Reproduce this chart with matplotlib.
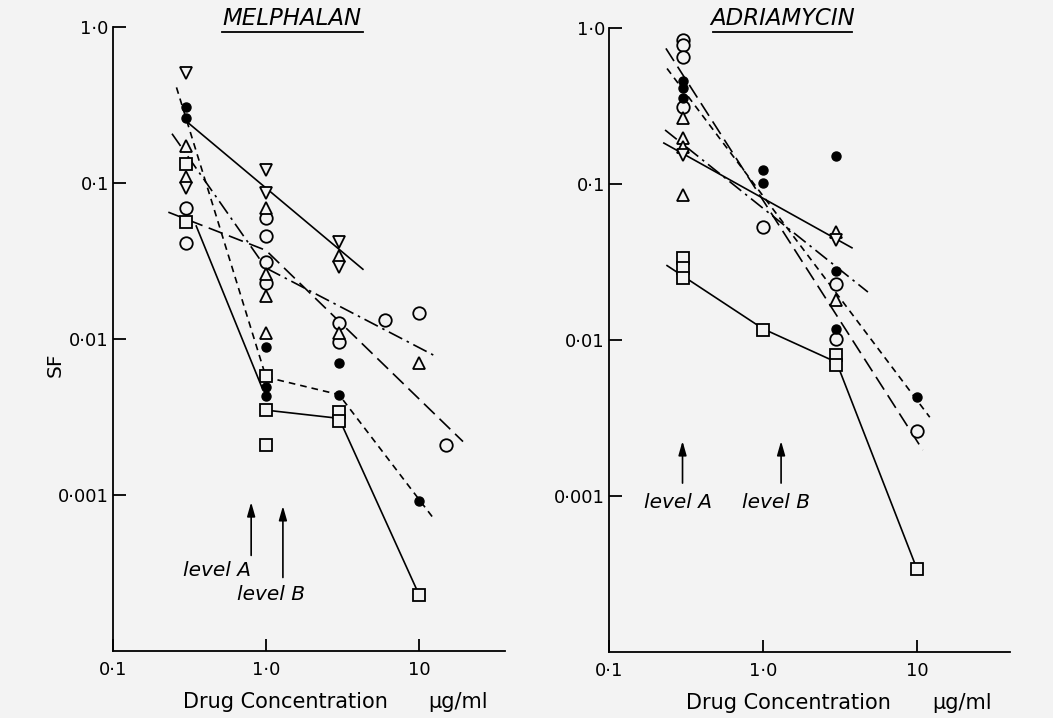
import matplotlib.pyplot as plt
from matplotlib.lines import Line2D

bg = '#f3f3f3'

# ---- MELPHALAN data (x = drug conc ug/ml, y = SF) ----
mel_open_circle_x = [0.3, 0.3, 1.0, 1.0, 1.0, 1.0, 3.0, 3.0, 6.0, 10, 15]
mel_open_circle_y = [0.069, 0.041, 0.060, 0.046, 0.031, 0.023, 0.0126, 0.0095, 0.0133, 0.0147, 0.0021]
mel_dot_x = [0.3, 0.3, 1.0, 1.0, 1.0, 3.0, 3.0, 10]
mel_dot_y = [0.307, 0.261, 0.0089, 0.0049, 0.0043, 0.0070, 0.0044, 0.00091]
mel_up_x = [0.3, 0.3, 1.0, 1.0, 1.0, 1.0, 3.0, 3.0, 10]
mel_up_y = [0.173, 0.109, 0.069, 0.026, 0.019, 0.011, 0.034, 0.011, 0.0070]
mel_down_x = [0.3, 0.3, 1.0, 1.0, 3.0, 3.0]
mel_down_y = [0.51, 0.093, 0.121, 0.086, 0.042, 0.029]
mel_square_x = [0.3, 0.3, 1.0, 1.0, 1.0, 3.0, 3.0, 10]
mel_square_y = [0.132, 0.056, 0.0058, 0.0035, 0.0021, 0.0034, 0.0030, 0.00023]

# fitted lines
mel_lines = [
    ([0.31, 4.3], [0.243, 0.028], '-'),
    ([0.26, 1.0, 3.0, 12.7], [0.41, 0.0057, 0.0044, 0.00069], 'short'),
    ([0.35, 0.94], [0.053, 0.0049], '-'),
    ([1.0, 3.0, 10], [0.0035, 0.0031, 0.00023], '-'),
    ([0.23, 1.0, 19.4], [0.065, 0.037, 0.0022], 'long'),
    ([0.243, 1.0, 12.7], [0.207, 0.0285, 0.0078], 'dashdot'),
]

# ---- ADRIAMYCIN data ----
adr_open_circle_x = [0.3, 0.3, 0.3, 0.3, 1.0, 3.0, 3.0, 10]
adr_open_circle_y = [0.84, 0.78, 0.65, 0.31, 0.053, 0.023, 0.0102, 0.0026]
adr_dot_x = [0.3, 0.3, 0.3, 1.0, 1.0, 3.0, 3.0, 3.0, 10]
adr_dot_y = [0.46, 0.41, 0.355, 0.123, 0.102, 0.151, 0.0275, 0.0118, 0.0043]
adr_up_x = [0.3, 0.3, 0.3, 0.3, 3.0, 3.0]
adr_up_y = [0.265, 0.197, 0.173, 0.085, 0.049, 0.018]
adr_down_x = [0.3, 3.0]
adr_down_y = [0.154, 0.044]
adr_square_x = [0.3, 0.3, 0.3, 1.0, 3.0, 3.0, 10]
adr_square_y = [0.0335, 0.029, 0.025, 0.0116, 0.0080, 0.0069, 0.00034]

adr_lines = [
    ([0.238, 1.0, 3.0, 10], [0.030, 0.0118, 0.0072, 0.00034], '-'),
    ([0.227, 3.78], [0.183, 0.039], '-'),
    ([0.231, 4.8], [0.222, 0.0203], 'dashdot'),
    ([0.238, 12.1], [0.55, 0.0032], 'short'),
    ([0.234, 10.9], [0.74, 0.00197], 'long'),
]

y_ticks = [1.0, 0.1, 0.01, 0.001]
y_labels = ['1\u00b70', '0\u00b71', '0\u00b701', '0\u00b7001']
x_ticks = [0.1, 1.0, 10]
x_labels = ['0\u00b71', '1\u00b70', '10']

dash_styles = {'-': (None, None), 'short': (0, (4, 3)), 'long': (0, (9, 4)),
               'dashdot': (0, (9, 3, 1.5, 3))}


def draw_panel(ax, xmax, lines, circ, dots, up, down, sq):
    for xs, ys, st in lines:
        if st == '-':
            ax.plot(xs, ys, color='k', lw=1.2, zorder=2)
        else:
            ax.plot(xs, ys, color='k', lw=1.2, linestyle=dash_styles[st], zorder=2)
    ms = 9
    ax.plot(circ[0], circ[1], 'o', ms=ms, mfc=bg, mec='k', mew=1.3, ls='none', zorder=3)
    ax.plot(up[0], up[1], '^', ms=ms, mfc=bg, mec='k', mew=1.3, ls='none', zorder=3)
    ax.plot(down[0], down[1], 'v', ms=ms, mfc=bg, mec='k', mew=1.3, ls='none', zorder=3)
    ax.plot(sq[0], sq[1], 's', ms=ms, mfc=bg, mec='k', mew=1.3, ls='none', zorder=3)
    ax.plot(dots[0], dots[1], 'o', ms=6.5, mfc='k', mec='k', ls='none', zorder=4)

    ax.set_xscale('log')
    ax.set_yscale('log')
    ax.set_xlim(0.1, xmax)
    ax.set_ylim(1e-4, 1.0)
    ax.set_facecolor(bg)
    ax.spines['top'].set_visible(False)
    ax.spines['right'].set_visible(False)
    ax.spines['left'].set_linewidth(1.3)
    ax.spines['bottom'].set_linewidth(1.3)
    ax.set_yticks(y_ticks)
    ax.set_yticklabels(y_labels)
    ax.set_xticks(x_ticks)
    ax.set_xticklabels(x_labels)
    ax.minorticks_off()
    ax.tick_params(direction='in', length=9, width=1.3, labelsize=13, pad=3)
    ax.tick_params(axis='x', pad=7)


fig = plt.figure(figsize=(10.53, 7.18), dpi=100, facecolor=bg)
ax1 = fig.add_axes([0.1073, 0.0933, 0.3723, 0.8691])
ax2 = fig.add_axes([0.5784, 0.0919, 0.3808, 0.8691])

draw_panel(ax1, 36.5, mel_lines, (mel_open_circle_x, mel_open_circle_y),
           (mel_dot_x, mel_dot_y), (mel_up_x, mel_up_y),
           (mel_down_x, mel_down_y), (mel_square_x, mel_square_y))
draw_panel(ax2, 40.2, adr_lines, (adr_open_circle_x, adr_open_circle_y),
           (adr_dot_x, adr_dot_y), (adr_up_x, adr_up_y),
           (adr_down_x, adr_down_y), (adr_square_x, adr_square_y))

# level arrows
arw = dict(arrowstyle='-|>,head_width=0.2,head_length=0.7', color='k', lw=1.2,
           mutation_scale=12, shrinkA=0, shrinkB=0)
ax1.annotate('', xy=(0.80, 0.00090), xytext=(0.80, 0.00041), arrowprops=arw)
ax1.annotate('', xy=(1.29, 0.00085), xytext=(1.29, 0.000296), arrowprops=arw)
ax1.text(0.478, 0.00033, 'level A', ha='center', va='center', fontsize=14.5, style='italic')
ax1.text(1.08, 0.00023, 'level B', ha='center', va='center', fontsize=14.5, style='italic')
ax2.annotate('', xy=(0.3, 0.00225), xytext=(0.3, 0.00121), arrowprops=arw)
ax2.annotate('', xy=(1.31, 0.00225), xytext=(1.31, 0.00121), arrowprops=arw)
ax2.text(0.28, 0.00091, 'level A', ha='center', va='center', fontsize=14.5, style='italic')
ax2.text(1.21, 0.00091, 'level B', ha='center', va='center', fontsize=14.5, style='italic')

# titles, underlined
fig.text(0.2773, 0.974, 'MELPHALAN', ha='center', va='center', fontsize=16.5, style='italic')
fig.add_artist(Line2D([222 / 1053, 363 / 1053], [0.9554, 0.9554], color='k', lw=1.3))
fig.text(0.7431, 0.974, 'ADRIAMYCIN', ha='center', va='center', fontsize=16.5, style='italic')
fig.add_artist(Line2D([713 / 1053, 852 / 1053], [0.9554, 0.9554], color='k', lw=1.3))

# axis labels
fig.text(0.0522, 0.4916, 'SF', rotation=90, ha='center', va='center', fontsize=14.5)
fig.text(0.2707, 0.0223, 'Drug Concentration', ha='center', va='center', fontsize=15)
fig.text(0.435, 0.0223, '\u03bcg/ml', ha='center', va='center', fontsize=15)
fig.text(0.7488, 0.0209, 'Drug Concentration', ha='center', va='center', fontsize=15)
fig.text(0.914, 0.0209, '\u03bcg/ml', ha='center', va='center', fontsize=15)

fig.savefig('out.png', dpi=100, facecolor=bg)
